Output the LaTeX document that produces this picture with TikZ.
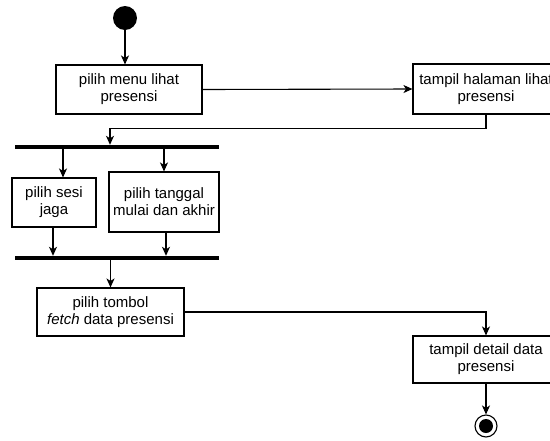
\documentclass[tikz,border=0pt]{standalone}
\usepackage{fontspec}
\setmainfont{Liberation Sans}
\usetikzlibrary{arrows.meta,calc}
\begin{document}
\begin{tikzpicture}[x=1pt,y=-1pt,
  act/.style={draw=black,line width=1.1pt,rectangle,inner sep=0pt,align=center,
    font=\fontsize{15}{17}\selectfont},
  bar/.style={fill=black,draw=none,rectangle,inner sep=0pt,minimum height=4pt},
  arr/.style={draw=black,line width=1.1pt,-{Stealth[length=9pt,width=8pt,inset=2.5pt]}},
  ln/.style={draw=black,line width=1.1pt}]
\clip (0,0) rectangle (550,440);
\fill[white] (0,0) rectangle (550,440);
\node[circle,fill=black,minimum size=24pt,inner sep=0pt] (start) at (125,18) {};
\node[act,minimum width=146pt,minimum height=49pt] (b1) at (129,89.5) {pilih menu lihat\\presensi};
\node[act,minimum width=146pt,minimum height=50pt] (b2) at (486,89) {tampil halaman lihat\\presensi};
\node[bar,minimum width=204pt] (fork) at (117,147) {};
\node[act,minimum width=84pt,minimum height=49pt] (b3) at (54,202.5) {pilih sesi\\jaga};
\node[act,minimum width=110pt,minimum height=60pt] (b4) at (164,202) {pilih tanggal\\mulai dan akhir};
\node[bar,minimum width=204pt] (join) at (117,258) {};
\node[act,minimum width=147pt,minimum height=48pt] (b5) at (110.5,312) {pilih tombol\\\textit{fetch} data presensi};
\node[act,minimum width=146pt,minimum height=47pt] (b6) at (486,359.5) {tampil detail data\\presensi};
\node[circle,draw=black,line width=1.1pt,fill=white,minimum size=22pt,inner sep=0pt] (end) at (486,426) {};
\fill[black] (end.center) circle (7pt);

\draw[arr] (start) -- (start |- b1.north);
\draw[arr] (b1.east) -- (b2.west);
\draw[arr] (b2.south) -- ++(0,14) -| ([xshift=-7pt]fork.north);
\draw[arr] ([xshift=9pt]b3.north |- fork.south) -- ([xshift=9pt]b3.north);
\draw[arr] (b4.north |- fork.south) -- (b4.north);
\draw[arr] ([xshift=-1pt]b3.south) -- ([xshift=-1pt]b3.south |- join.north);
\draw[arr] ([xshift=2pt]b4.south) -- ([xshift=2pt]b4.south |- join.north);
\draw[arr] (b5.north |- join.south) -- (b5.north);
\draw[arr] (b5.east) -| (b6.north);
\draw[arr] (b6.south) -- (end.north);
\end{tikzpicture}
\end{document}
